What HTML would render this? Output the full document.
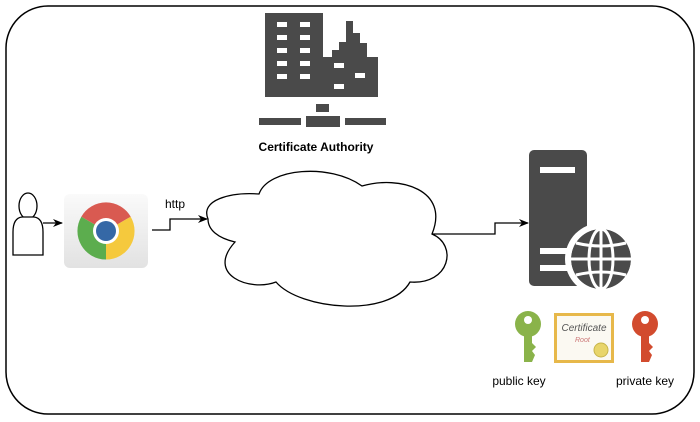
<!DOCTYPE html>
<html><head><style>
body{margin:0;background:#fff;}
svg{display:block;}
text{font-family:"Liberation Sans",sans-serif;}
</style></head><body>
<svg width="700" height="422" viewBox="0 0 700 422" xmlns="http://www.w3.org/2000/svg">
<defs><marker id="ar" markerWidth="10" markerHeight="8" refX="9" refY="4" orient="auto" markerUnits="userSpaceOnUse"><path d="M0,0 L10,4 L0,8 L3,4 Z" fill="#000"/></marker>
<linearGradient id="cg" x1="0" y1="0" x2="0" y2="1"><stop offset="0" stop-color="#fafafa"/><stop offset="1" stop-color="#e2e2e2"/></linearGradient></defs>
<rect x="6" y="6" width="688" height="408" rx="42" fill="#fff" stroke="#000" stroke-width="1.5"/>
<!-- CA building -->
<g fill="#4a4a4a">
<rect x="265" y="13" width="58" height="84"/>
<path d="M323,57 L332,57 L332,50 L339,50 L339,42 L346,42 L346,21 L353,21 L353,33 L360,33 L360,43 L367,43 L367,57 L378,57 L378,97 L323,97 Z"/>
<rect x="316" y="104" width="13" height="8"/>
<rect x="259" y="118" width="42" height="7"/>
<rect x="306" y="116" width="34" height="11"/>
<rect x="345" y="118" width="41" height="7"/>
</g>
<g fill="#fff">
<rect x="277" y="22" width="10" height="5"/><rect x="300" y="22" width="10" height="5"/>
<rect x="277" y="35" width="10" height="5"/><rect x="300" y="35" width="10" height="5"/>
<rect x="277" y="48" width="10" height="5"/><rect x="300" y="48" width="10" height="5"/>
<rect x="277" y="61" width="10" height="5"/><rect x="300" y="61" width="10" height="5"/>
<rect x="277" y="74" width="10" height="5"/><rect x="300" y="74" width="10" height="5"/>
<rect x="334" y="63" width="10" height="5"/><rect x="355" y="73" width="10" height="5"/><rect x="334" y="84" width="10" height="5"/>
</g>
<text x="316" y="151" font-size="12" font-weight="bold" text-anchor="middle">Certificate Authority</text>
<!-- user -->
<ellipse cx="28" cy="206" rx="9" ry="13" fill="#fff" stroke="#000" stroke-width="1.3"/>
<path d="M13,255 L13,232 Q13,218 22,217 L34,217 Q43,218 43,232 L43,255 Z" fill="#fff" stroke="#000" stroke-width="1.3"/>
<line x1="43" y1="223" x2="62" y2="223" stroke="#000" stroke-width="1.3" marker-end="url(#ar)"/>
<!-- chrome -->
<rect x="64" y="194" width="84" height="74" rx="6" fill="url(#cg)"/>
<g transform="translate(106,231)">
<path d="M0,0 L-24.7,-14.3 A28.5,28.5 0 0 1 24.7,-14.3 Z" fill="#d95a51"/>
<path d="M0,0 L24.7,-14.3 A28.5,28.5 0 0 1 0,28.5 Z" fill="#f5c93d"/>
<path d="M0,0 L0,28.5 A28.5,28.5 0 0 1 -24.7,-14.3 Z" fill="#5cad4e"/>
<circle r="13" fill="#fff"/><circle r="10" fill="#3568a6"/>
</g>
<text x="165" y="208" font-size="12">http</text>
<polyline points="152,230 170,230 170,219 207,219" fill="none" stroke="#000" stroke-width="1.3" marker-end="url(#ar)"/>
<!-- cloud -->
<path d="M208,219 C200,200 230,192 259,194 C268,168 330,163 362,186 C400,175 450,190 432,234 C458,245 450,285 410,282 C390,318 300,310 276,282 C250,292 205,275 235,242 C218,238 208,230 208,219 Z" fill="#fff" stroke="#000" stroke-width="1.3"/>
<polyline points="432,234 495,234 495,223 528,223" fill="none" stroke="#000" stroke-width="1.3" marker-end="url(#ar)"/>
<!-- server -->
<rect x="529" y="150" width="58" height="136" rx="5" fill="#4a4a4a"/>
<rect x="540" y="167" width="35" height="6" fill="#fff"/>
<rect x="540" y="248" width="35" height="6" fill="#fff"/>
<rect x="540" y="265" width="35" height="6" fill="#fff"/>
<circle cx="601" cy="259" r="36" fill="#fff"/>
<g fill="none" stroke="#4a4a4a">
<circle cx="601" cy="259" r="30" fill="#4a4a4a" stroke="none"/>
</g>
<g fill="none" stroke="#fff" stroke-width="3">
<ellipse cx="601" cy="259" rx="12" ry="30"/>
<line x1="601" y1="229" x2="601" y2="289"/>
<line x1="571" y1="259" x2="631" y2="259"/>
<path d="M576,243 Q601,249 626,243"/>
<path d="M576,275 Q601,269 626,275"/>
</g>
<circle cx="601" cy="259" r="31" fill="none" stroke="#fff" stroke-width="2"/>
<!-- green key -->
<g fill="#8ab34a">
<circle cx="528" cy="324" r="13"/>
<path d="M524,334 L532,334 L532,343 L536,347 L532,351 L535,355 L532,362 L524,362 Z"/>
</g>
<circle cx="528" cy="320" r="4" fill="#fff"/>
<!-- certificate -->
<rect x="554" y="313" width="60" height="50" fill="#e7b84a"/>
<rect x="557" y="316" width="54" height="44" fill="#fbf9f2"/>
<text x="584" y="331" font-size="10" font-style="italic" text-anchor="middle" fill="#555" font-family="Liberation Serif,serif">Certificate</text>
<text x="575" y="342" font-size="7" font-style="italic" fill="#c77" font-family="Liberation Serif,serif">Root</text>
<circle cx="601" cy="350" r="7" fill="#e8d56a" stroke="#c7b54a"/>
<!-- red key -->
<g fill="#d24b2e">
<circle cx="645" cy="324" r="13"/>
<path d="M641,334 L649,334 L649,343 L653,347 L649,351 L652,355 L649,362 L641,362 Z"/>
</g>
<circle cx="645" cy="320" r="4" fill="#fff"/>
<text x="519" y="385" font-size="12" text-anchor="middle">public key</text>
<text x="645" y="385" font-size="12" text-anchor="middle">private key</text>
</svg>
</body></html>
